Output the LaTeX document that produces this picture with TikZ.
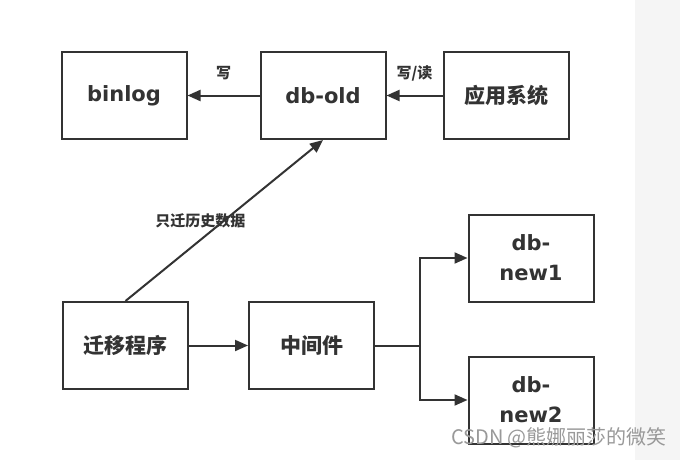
\documentclass[tikz,border=0pt]{standalone}
\usepackage{fontspec}
\setmainfont{DejaVu Sans}
\newfontfamily\cjk{Noto Sans CJK SC}
\usetikzlibrary{arrows.meta, positioning}
\definecolor{ink}{HTML}{333333}
\tikzset{
  box/.style = {shape=rectangle, %rounded corners,
                draw=ink, line width=2pt, align=center,
                minimum width=125pt, minimum height=87pt,
                text=ink, font=\bfseries\fontsize{21}{30}\selectfont},
  cnbox/.style = {box, font=\cjk\bfseries\fontsize{21}{30}\selectfont},
  lbl/.style   = {text=ink, font=\cjk\bfseries\fontsize{15}{18}\selectfont},
  link/.style  = {draw=ink, line width=2pt, -{Triangle[length=13pt,width=11pt]}},
  wmark/.style = {text=black!40, font=\cjk\fontsize{20}{24}\selectfont}
}
\begin{document}
\begin{tikzpicture}[x=1pt, y=-1pt]
  \useasboundingbox (0,0) rectangle (680,460);
  \fill[white] (0,0) rectangle (680,460);
  \fill[black!4] (635,0) rectangle (680,460);

  % top row
  \node[box] (dbold) at (323,95.5) {db-old};
  \node[box, left=72pt of dbold] (binlog) {binlog};
  \node[cnbox, right=56pt of dbold] (app) {应用系统};

  % bottom row
  \node[cnbox] (mig) at (125.5,345.5) {迁移程序};
  \node[cnbox, right=59pt of mig] (mid) {中间件};
  \node[box] (new1) at (531,258) {db-\\new1};
  \node[box] (new2) at (531,400) {db-\\new2};
  \coordinate (fork) at (420,345.5);

  \draw[link] (dbold.west) -- (binlog.east)
    node[lbl, midway, yshift=22pt] {写};
  \draw[link] (app.west) -- (dbold.east)
    node[lbl, midway, yshift=22pt] {写/读};
  \draw[link] (mig.north) -- (dbold.south)
    node[lbl, midway, xshift=-24pt] {只迁历史数据};
  \draw[link] (mig.east) -- (mid.west);
  \draw[draw=ink, line width=2pt] (mid.east) -- (fork);
  \draw[link] (fork) |- (new1.west);
  \draw[link] (fork) |- (new2.west);

  \node[wmark] (wm) at (559,438) {CSDN @熊娜丽莎的微笑};
\end{tikzpicture}
\end{document}
